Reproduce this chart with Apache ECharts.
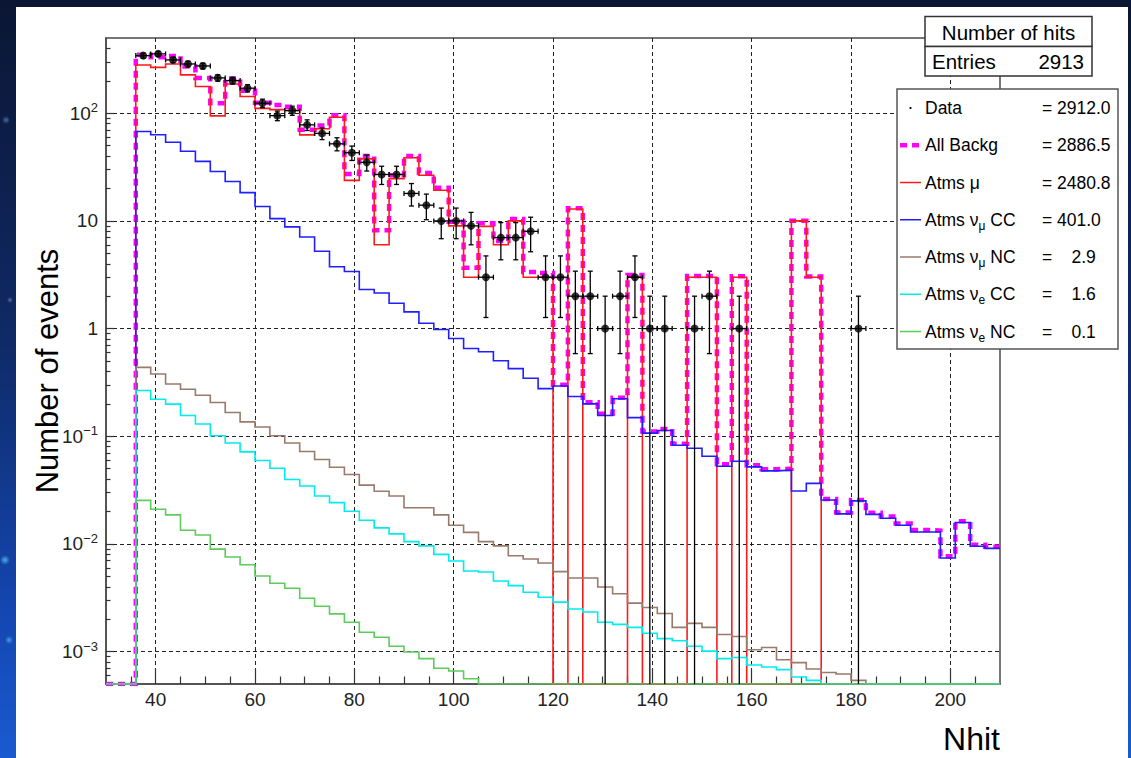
<!DOCTYPE html>
<html>
<head>
<meta charset="utf-8">
<script src="https://cdn.jsdelivr.net/npm/echarts@6/dist/echarts.min.js"></script>
<style>
html, body { margin: 0; padding: 0; width: 1131px; height: 758px; overflow: hidden; }
body {
  background:
    radial-gradient(circle at 6px 120px, rgba(120,170,255,0.55) 0, rgba(120,170,255,0) 4px),
    radial-gradient(circle at 10px 300px, rgba(140,190,255,0.5) 0, rgba(140,190,255,0) 3px),
    radial-gradient(circle at 5px 560px, rgba(90,220,255,0.7) 0, rgba(90,220,255,0) 5px),
    radial-gradient(circle at 9px 640px, rgba(90,220,255,0.6) 0, rgba(90,220,255,0) 4px),
    linear-gradient(180deg, #0a1633 0%, #0f2a66 45%, #1446b0 80%, #1a5ad0 100%);
}
#panel { position: absolute; left: 16px; top: 7px; width: 1112px; height: 751px; background: #ffffff; }
#chart { position: absolute; left: 0; top: 0; width: 1131px; height: 758px; }
</style>
</head>
<body>
<div id="panel"></div>
<div id="chart"></div>
<script>
// ---------------- data ----------------
const BIN_EDGES = [30,33,36,39,42,45,48,51,54,57,60,63,66,69,72,75,78,81,84,87,90,93,96,99,102,105,108,111,114,117,120,123,126,129,132,135,138,141,144,147,150,153,156,159,162,165,168,171,174,177,180,183,186,189,192,195,198,201,204,207,210];

const DATA_COUNTS = [0,0,
  343,356,313,287,275,213,201,171,
  124,95,106,78,65,52,43,35,
  27,27,18,14,10,10,9,3,
  7,7,8,3,
  3,2,2,1,2,3,1,1,0,1,
  2,0,1,0,0,0,0,0,
  0,0,1,0,0,0,0,0,0,0,0,0];

const ALL_BACKG = [0,0,
  349,331,341,272,213,124,210,162,
  125,119,115,70.2,77.0,95.6,27.3,40.1,
  8.19,26.5,40.1,27.8,20.3,9.83,3.67,9.53,
  6.52,10.44,3.36,3.29,
  0.301,13.14,0.207,0.162,0.228,3.15,0.111,0.117,0.0854,3.08,
  3.07,0.055,3.06,0.0538,0.0495,0.0499,10.03,3.04,
  0.0262,0.0196,0.0256,0.0195,0.0180,0.0155,0.0135,0.0133,0.0077,0.0162,0.0098,0.0094];

const ATMS_MU = [0,0,
  281,267,287,227,177,94.6,187,143,
  111,108,106,63,71.7,91.8,23.8,37.7,
  6.0,24.7,38.6,26.6,19.3,9.0,3.0,8.9,
  6.0,10.0,3.0,3.0,
  0,12.9,0,0,0,3.0,0,0,0,3.0,
  3.0,0,3.0,0,0,0,10.0,3.0,
  0,0,0,0,0,0,0,0,0,0,0,0];

const ATMS_NUMU_CC = [0,0,
  67.6,63.1,53.8,44.4,35.7,28.8,23.2,18.3,
  13.6,10.5,8.8,7.1,5.22,3.75,3.39,2.31,
  2.14,1.72,1.43,1.12,0.98,0.81,0.654,0.609,
  0.503,0.425,0.346,0.277,
  0.293,0.234,0.200,0.156,0.223,0.149,0.107,0.113,0.0824,0.0773,
  0.0652,0.0527,0.0586,0.052,0.0477,0.0484,0.031,0.0365,
  0.0256,0.019,0.0251,0.0188,0.0173,0.0149,0.0129,0.0129,0.0074,0.0158,0.0095,0.0091];

const ATMS_NUMU_NC = [0,0,
  0.436,0.379,0.306,0.273,0.240,0.206,0.166,0.136,
  0.122,0.101,0.0867,0.0721,0.0608,0.0516,0.0442,0.0352,
  0.0308,0.0279,0.0217,0.0217,0.0186,0.0149,0.0128,0.0105,
  0.0096,0.00777,0.00724,0.00665,
  0.00553,0.00483,0.00483,0.00398,0.00344,0.00282,0.00257,0.00226,0.00168,0.00183,
  0.00168,0.00144,0.00138,0.00104,0.00109,0.00084,0.00079,0.00069,
  0.00064,0.00062,0.00054,0,0,0,0,0,0,0,0,0];

const ATMS_NUE_CC = [0,0,
  0.266,0.221,0.199,0.156,0.130,0.101,0.0867,0.0716,
  0.0595,0.0505,0.0397,0.0345,0.0279,0.0242,0.0201,0.0166,
  0.0141,0.0124,0.0105,0.0096,0.0080,0.00694,0.00561,0.00549,
  0.00453,0.0041,0.00356,0.0032,
  0.00288,0.00249,0.00233,0.00187,0.00179,0.00168,0.00148,0.00132,0.00126,0.00112,
  0.00101,0.00086,0.00088,0.00075,0.00072,0.00068,0.00058,0.00054,
  0,0,0,0,0,0,0,0,0,0,0,0];

const ATMS_NUE_NC = [0,0,
  0.0254,0.0210,0.0186,0.0134,0.0121,0.00895,0.00755,0.00641,
  0.00504,0.00431,0.00388,0.00313,0.00264,0.00224,0.00187,0.00151,
  0.00136,0.00112,0.00099,0.00086,0.00070,0.00066,0.00056,0,
  0,0,0,0,
  0,0,0,0,0,0,0,0,0,0,
  0,0,0,0,0,0,0,0,
  0,0,0,0,0,0,0,0,0,0,0,0];

const X_RANGE = [30, 210];
const Y_RANGE = [5e-4, 500];
const X_MAJOR_TICKS = [40, 60, 80, 100, 120, 140, 160, 180, 200];
const X_MINOR_TICKS = [35,45,50,55,65,70,75,85,90,95,105,110,115,125,130,135,145,150,155,165,170,175,185,190,195,205];
const Y_MAJOR_TICKS = [0.001, 0.01, 0.1, 1, 10, 100];

const LEGEND_LABELS = ['Data', 'All Backg', 'Atms \u03bc', 'Atms \u03bd{sub|\u03bc} CC', 'Atms \u03bd{sub|\u03bc} NC', 'Atms \u03bd{sub|e} CC', 'Atms \u03bd{sub|e} NC'];
const LEGEND_VALUES = ['2912.0', '2886.5', '2480.8', '401.0', '2.9', '1.6', '0.1'];
const STATS_TITLE = 'Number of hits';
const STATS_ENTRIES = '2913';

// ---------------- build ----------------
const FONT = 'Liberation Sans, Arial, Helvetica, sans-serif';
const YMIN = Y_RANGE[0];

// minor log ticks 2..9 x 10^k inside the range
const Y_MINOR_TICKS = [];
for (let e = -4; e <= 2; e++) {
  for (let k = 2; k <= 9; k++) {
    const v = Number((k * Math.pow(10, e)).toPrecision(3));
    if (v > Y_RANGE[0] && v < Y_RANGE[1]) Y_MINOR_TICKS.push(v);
  }
}

function stepData(vals) {
  const out = [];
  for (let i = 0; i < vals.length; i++) out.push([BIN_EDGES[i], Math.max(vals[i], YMIN)]);
  out.push([BIN_EDGES[vals.length], Math.max(vals[vals.length - 1], YMIN)]);
  return out;
}

const dataPoints = [];
for (let i = 0; i < DATA_COUNTS.length; i++) {
  if (DATA_COUNTS[i] > 0) dataPoints.push([(BIN_EDGES[i] + BIN_EDGES[i + 1]) / 2, DATA_COUNTS[i]]);
}
const HALF_BIN = (BIN_EDGES[1] - BIN_EDGES[0]) / 2;

function hist(name, vals, color, width, type, z) {
  return {
    name: name, type: 'line', step: 'end', data: stepData(vals),
    symbol: 'none', showSymbol: false, silent: true, clip: true, z: z,
    xAxisIndex: 0, yAxisIndex: 0,
    lineStyle: { color: color, width: width, type: type || 'solid', cap: 'butt', join: 'miter' }
  };
}

const COLORS = {
  backg: '#ff00ff', mu: '#ff1a1a', numucc: '#1f1fff', numunc: '#9a7a6a', nuecc: '#00ecec', nuenc: '#5ccc5c'
};

function yLabel(v) {
  const e = Math.round(Math.log10(v));
  if (e === 0) return '{b|1}';
  if (e === 1) return '{b|10}';
  return '{b|10}{s|' + (e < 0 ? '\u2212' + (-e) : String(e)) + '}';
}

// legend graphic
const graphics = [];
graphics.push({ type: 'text', x: 47, y: 371, rotation: Math.PI / 2, z: 100,
  style: { text: 'Number of events', fontSize: 31, fontFamily: FONT, fill: '#000', align: 'center', verticalAlign: 'middle' } });
graphics.push({ type: 'text', x: 1000, y: 739, z: 100,
  style: { text: 'Nhit', fontSize: 32, fontFamily: FONT, fill: '#000', align: 'right', verticalAlign: 'middle' } });
// stats box
graphics.push({ type: 'rect', z: 100, shape: { x: 925, y: 16.5, width: 167, height: 30 }, style: { fill: '#fff', stroke: '#333', lineWidth: 1.5 } });
graphics.push({ type: 'rect', z: 100, shape: { x: 925, y: 46.5, width: 167, height: 29.5 }, style: { fill: '#fff', stroke: '#333', lineWidth: 1.5 } });
graphics.push({ type: 'text', x: 1008.5, y: 32, z: 101, style: { text: STATS_TITLE, fontSize: 20.5, fontFamily: FONT, fill: '#000', align: 'center', verticalAlign: 'middle' } });
graphics.push({ type: 'text', x: 932, y: 61.5, z: 101, style: { text: 'Entries', fontSize: 20.5, fontFamily: FONT, fill: '#000', align: 'left', verticalAlign: 'middle' } });
graphics.push({ type: 'text', x: 1084, y: 61.5, z: 101, style: { text: STATS_ENTRIES, fontSize: 20.5, fontFamily: FONT, fill: '#000', align: 'right', verticalAlign: 'middle' } });
// legend box
graphics.push({ type: 'rect', z: 100, shape: { x: 897, y: 89, width: 221, height: 260 }, style: { fill: '#fff', stroke: '#555', lineWidth: 1.5 } });
const legendStyles = [
  null,
  { color: COLORS.backg, width: 4.5, dash: [7, 5] },
  { color: COLORS.mu, width: 1.5 },
  { color: COLORS.numucc, width: 1.5 },
  { color: COLORS.numunc, width: 1.5 },
  { color: COLORS.nuecc, width: 1.5 },
  { color: COLORS.nuenc, width: 1.5 }
];
for (let i = 0; i < LEGEND_LABELS.length; i++) {
  const y = 108 + 37.25 * i;
  if (i === 0) {
    graphics.push({ type: 'circle', z: 101, shape: { cx: 910.5, cy: y, r: 1.1 }, style: { fill: '#000' } });
  } else {
    const s = legendStyles[i];
    graphics.push({ type: 'line', z: 101, shape: { x1: 900, y1: y, x2: 921, y2: y },
      style: { stroke: s.color, lineWidth: s.width, lineDash: s.dash || null } });
  }
  graphics.push({ type: 'text', x: 925, y: y, z: 101, style: {
    text: LEGEND_LABELS[i], fontSize: 17.5, fontFamily: FONT, fill: '#000', lineHeight: 24,
    align: 'left', verticalAlign: 'middle',
    rich: { sub: { fontSize: 12, fontFamily: FONT, fill: '#000', verticalAlign: 'bottom', lineHeight: 12 } } } });
  graphics.push({ type: 'text', x: 1042, y: y, z: 101, style: { text: '=', fontSize: 17.5, fontFamily: FONT, fill: '#000', align: 'left', verticalAlign: 'middle' } });
  const num = parseFloat(LEGEND_VALUES[i]);
  graphics.push({ type: 'text', x: num >= 100 ? 1057 : 1071.5, y: y, z: 101, style: { text: LEGEND_VALUES[i], fontSize: 17.5, fontFamily: FONT, fill: '#000', align: 'left', verticalAlign: 'middle' } });
}

const chart = echarts.init(document.getElementById('chart'), null, { renderer: 'svg' });
chart.setOption({
  animation: false,
  backgroundColor: 'transparent',
  textStyle: { fontFamily: FONT },
  grid: { left: 106, top: 38, right: 131, bottom: 74, show: true, borderColor: '#4a4a4a', borderWidth: 1.5, backgroundColor: 'transparent', containLabel: false, outerBoundsMode: 'none' },
  xAxis: [
    { type: 'value', min: X_RANGE[0], max: X_RANGE[1], position: 'bottom',
      axisLine: { show: true, onZero: false, lineStyle: { color: '#4a4a4a', width: 1.5 } },
      axisTick: { show: true, inside: true, length: 15, customValues: X_MAJOR_TICKS, lineStyle: { color: '#333', width: 1.2 } },
      axisLabel: { show: true, customValues: X_MAJOR_TICKS, fontSize: 19, fontFamily: FONT, color: '#222', margin: 6 },
      splitLine: { show: true, lineStyle: { color: '#222', width: 1, type: [4, 3] } } },
    { type: 'value', min: X_RANGE[0], max: X_RANGE[1], position: 'bottom', gridIndex: 0,
      axisLine: { show: false, onZero: false },
      axisTick: { show: true, inside: true, length: 7.5, customValues: X_MINOR_TICKS, lineStyle: { color: '#333', width: 1.2 } },
      axisLabel: { show: false }, splitLine: { show: false } }
  ],
  yAxis: [
    { type: 'log', logBase: 10, min: Y_RANGE[0], max: Y_RANGE[1], position: 'left',
      axisLine: { show: true, onZero: false, lineStyle: { color: '#4a4a4a', width: 1.5 } },
      axisTick: { show: true, inside: true, length: 8, customValues: Y_MAJOR_TICKS, lineStyle: { color: '#333', width: 1.2 } },
      axisLabel: { show: true, customValues: Y_MAJOR_TICKS, formatter: yLabel, margin: 8,
        rich: { b: { fontSize: 19, fontFamily: FONT, color: '#222', lineHeight: 24 },
                s: { fontSize: 13, fontFamily: FONT, color: '#222', verticalAlign: 'top', lineHeight: 13 } } },
      splitLine: { show: true, lineStyle: { color: '#222', width: 1, type: [4, 3] } } },
    { type: 'log', logBase: 10, min: Y_RANGE[0], max: Y_RANGE[1], position: 'left', gridIndex: 0,
      axisLine: { show: false, onZero: false },
      axisTick: { show: true, inside: true, length: 4.5, customValues: Y_MINOR_TICKS, lineStyle: { color: '#333', width: 1.2 } },
      axisLabel: { show: false }, splitLine: { show: false } }
  ],
  series: [
    hist('All Backg', ALL_BACKG, COLORS.backg, 4.5, [7, 5], 2),
    hist('Atms mu', ATMS_MU, COLORS.mu, 1.6, 'solid', 3),
    hist('Atms numu CC', ATMS_NUMU_CC, COLORS.numucc, 1.6, 'solid', 4),
    hist('Atms numu NC', ATMS_NUMU_NC, COLORS.numunc, 1.6, 'solid', 5),
    hist('Atms nue CC', ATMS_NUE_CC, COLORS.nuecc, 1.6, 'solid', 6),
    hist('Atms nue NC', ATMS_NUE_NC, COLORS.nuenc, 1.6, 'solid', 7),
    { name: 'Data errors', type: 'custom', data: dataPoints, encode: { x: 0, y: 1 }, z: 8, clip: true, silent: true,
      xAxisIndex: 0, yAxisIndex: 0,
      renderItem: function (params, api) {
        const x = api.value(0), n = api.value(1);
        const e = Math.sqrt(n);
        const c = api.coord([x, n]);
        const top = api.coord([x, n + e]);
        const lowVal = n - e;
        const bot = api.coord([x, Math.max(lowVal, YMIN)]);
        const l = api.coord([x - HALF_BIN, n]);
        const r = api.coord([x + HALF_BIN, n]);
        const cap = 2.5;
        const st = { stroke: '#000', lineWidth: 1.3 };
        const ch = [
          { type: 'line', shape: { x1: c[0], y1: top[1], x2: c[0], y2: bot[1] }, style: st },
          { type: 'line', shape: { x1: l[0], y1: c[1], x2: r[0], y2: c[1] }, style: st },
          { type: 'line', shape: { x1: c[0] - cap, y1: top[1], x2: c[0] + cap, y2: top[1] }, style: st },
          { type: 'line', shape: { x1: l[0], y1: c[1] - cap, x2: l[0], y2: c[1] + cap }, style: st },
          { type: 'line', shape: { x1: r[0], y1: c[1] - cap, x2: r[0], y2: c[1] + cap }, style: st }
        ];
        if (lowVal > YMIN) ch.push({ type: 'line', shape: { x1: c[0] - cap, y1: bot[1], x2: c[0] + cap, y2: bot[1] }, style: st });
        return { type: 'group', children: ch };
      } },
    { name: 'Data', type: 'scatter', data: dataPoints, symbol: 'circle', symbolSize: 8, z: 9, silent: true,
      xAxisIndex: 0, yAxisIndex: 0, itemStyle: { color: '#000' } }
  ],
  graphic: graphics
});
</script>
</body>
</html>
